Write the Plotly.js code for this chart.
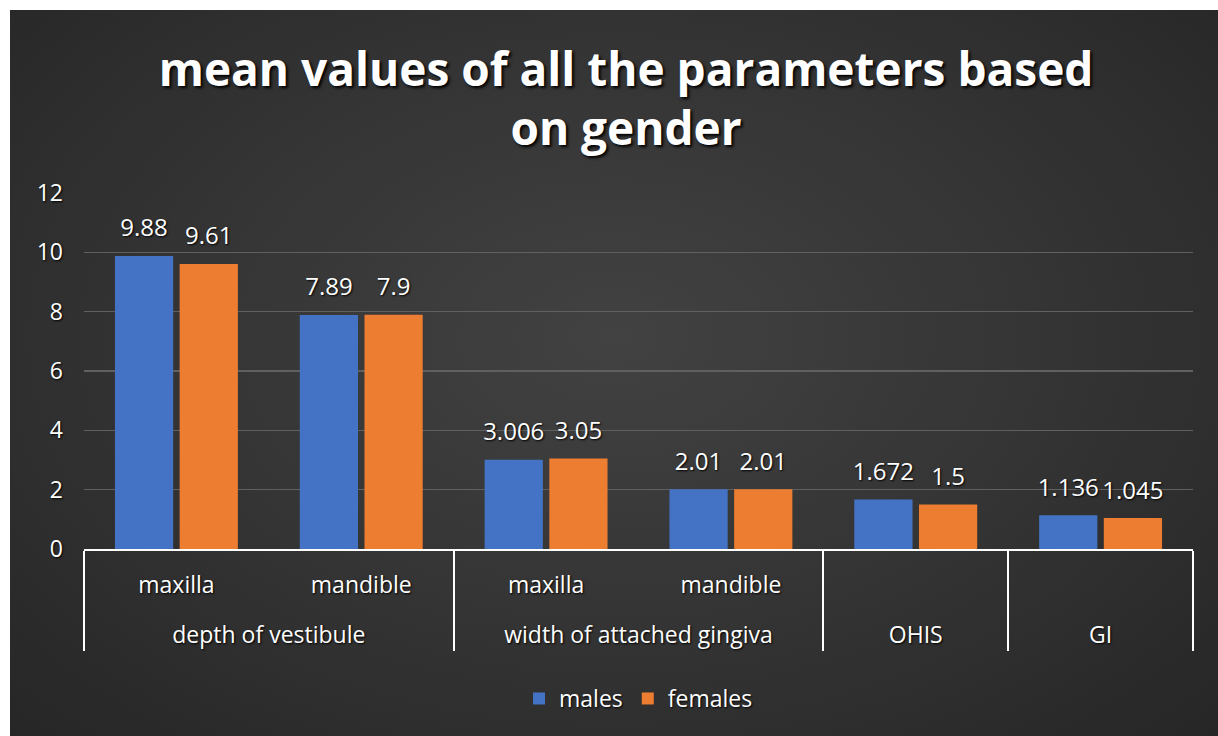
<!DOCTYPE html>
<html>
<head>
<meta charset="utf-8">
<script src="https://cdn.plot.ly/plotly-3.0.1.min.js"></script>
<style>
  html, body { margin: 0; padding: 0; background: #ffffff; width: 1218px; height: 736px; overflow: hidden; }
  #chart {
    position: absolute; left: 10px; top: 10px; width: 1208px; height: 726px;
    background: radial-gradient(ellipse at 50% 45%, #424242 0%, #333333 55%, #262626 100%);
  }
</style>
</head>
<body>
<div id="chart"></div>
<script>
const groups = ["depth of vestibule", "depth of vestibule", "width of attached gingiva", "width of attached gingiva", "OHIS", "GI"];
const subgroups = ["maxilla", "mandible", "maxilla", "mandible", " ", " "];
const seriesNames = ["males", "females"];
const males = [9.88, 7.89, 3.006, 2.01, 1.672, 1.136];
const females = [9.61, 7.9, 3.05, 2.01, 1.5, 1.045];
const yTicks = [0, 2, 4, 6, 8, 10, 12];

const colors = ["#4472C4", "#ED7D31"];
const series = [males, females];
// leading line break only pushes the outer row of labels down
const x = [groups.map(g => "<br>" + g), subgroups];
const labelFont = { family: "Open Sans, Noto Sans, sans-serif", size: 23, color: "#ffffff", shadow: "1px 1px 2px #000000" };

const traces = [];
series.forEach((vals, i) => {
  traces.push({
    type: "bar", name: seriesNames[i], x: x, y: vals,
    offsetgroup: String(i), marker: { color: colors[i], line: { width: 0 } },
    hoverinfo: "skip"
  });
});
series.forEach((vals, i) => {
  traces.push({
    type: "scatter", mode: "markers+text", x: x, y: vals,
    offsetgroup: String(i), showlegend: false,
    marker: { size: 20, opacity: 0 },
    text: vals.map(v => String(v)), textposition: "top center",
    textfont: Object.assign({}, labelFont, { size: 24 }), cliponaxis: false, hoverinfo: "skip"
  });
});

const layout = {
  width: 1208, height: 726,
  paper_bgcolor: "rgba(0,0,0,0)", plot_bgcolor: "rgba(0,0,0,0)",
  margin: { l: 74, r: 25, t: 183, b: 187 },
  barmode: "group", scattermode: "group",
  bargap: 0.30, bargroupgap: 0.10,
  title: {
    text: "mean values of all the parameters based<br>on gender",
    font: { family: "Open Sans, Noto Sans, sans-serif", size: 46, color: "#ffffff", weight: 700, shadow: "2px 2px 3px #000000" },
    x: 0.51, xref: "container", xanchor: "center",
    y: 0.896, yref: "container", yanchor: "middle"
  },
  xaxis: {
    type: "multicategory",
    showline: true, linecolor: "#ffffff", linewidth: 2,
    showdividers: true, dividercolor: "#ffffff", dividerwidth: 2,
    tickfont: labelFont, showgrid: false, ticks: "", ticklabelstandoff: 14
  },
  yaxis: {
    range: [0, 12], tickvals: yTicks, ticktext: yTicks.map(String),
    showgrid: true, gridcolor: "#606060", gridwidth: 1.5,
    zeroline: false, showline: false, ticks: "", ticklabelstandoff: 20,
    tickfont: labelFont
  },
  legend: {
    orientation: "h", x: 0.5, xanchor: "center", y: -0.42, yanchor: "middle",
    font: labelFont, bgcolor: "rgba(0,0,0,0)", itemwidth: 30
  },
  showlegend: true
};

Plotly.newPlot("chart", traces, layout, { displayModeBar: false, staticPlot: true });
</script>
</body>
</html>
